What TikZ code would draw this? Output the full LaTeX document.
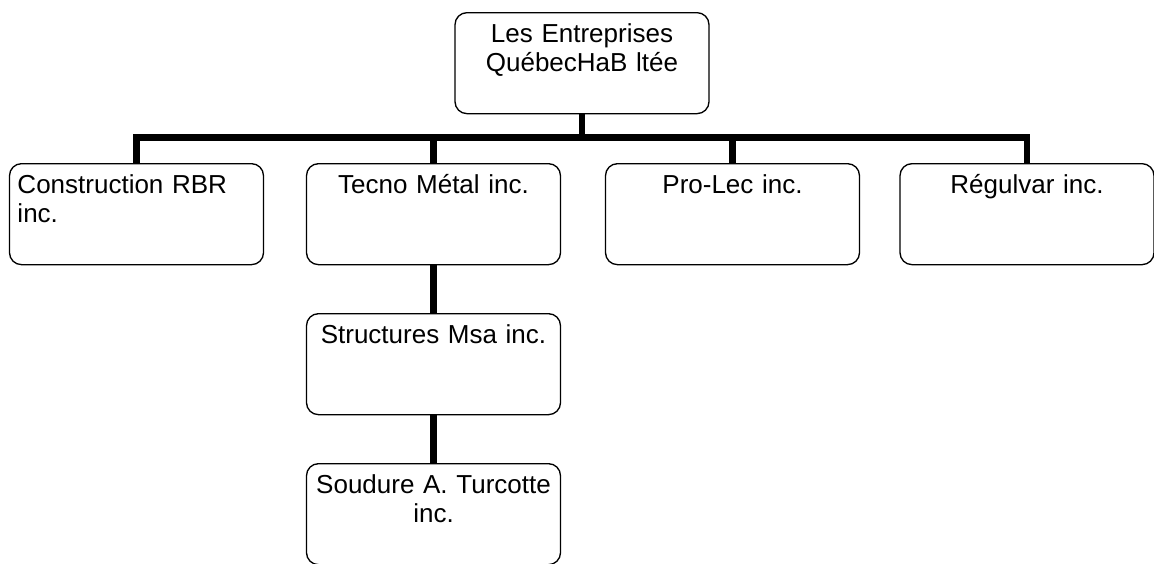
\documentclass[tikz,border=0pt]{standalone}
\usepackage{fontspec}
\setmainfont{Liberation Sans}

\begin{document}
\begin{tikzpicture}[x=0.75pt,y=-0.75pt,
  unit/.style={draw,line width=1pt,rounded corners=9pt,anchor=north,
    text width=178.5pt,align=center,inner xsep=6pt,inner ysep=4pt,
    text height=18.5pt,text depth=49.25pt,
    font=\fontsize{19.5}{21.75}\selectfont},
  link/.style={line width=4.6pt}]
\useasboundingbox (0,0) rectangle (1154,564);

\node[unit] (group) at (582,12) {Les Entreprises\\QuébecHaB ltée};

\node[unit,align=left] (rbr) at (136.5,163) {Construction RBR\\inc.};
\node[unit] (tecno) at (433.5,163) {Tecno Métal inc.};
\node[unit] (prolec) at (732.5,163) {Pro-Lec inc.};
\node[unit] (regulvar) at (1027,163) {Régulvar inc.};

\node[unit] (msa) at (433.5,313) {Structures Msa inc.};
\node[unit] (soudure) at (433.5,463) {Soudure A. Turcotte\\inc.};

\coordinate (bus) at (582,137.5);
\draw[link] (group.south) -- (group.south |- bus) -| (rbr.north);
\draw[link] (group.south |- bus) -| (tecno.north);
\draw[link] (group.south |- bus) -| (prolec.north);
\draw[link] (group.south |- bus) -| (regulvar.north);

\draw[link] (tecno.south) -- (msa.north);
\draw[link] (msa.south) -- (soudure.north);
\end{tikzpicture}
\end{document}
